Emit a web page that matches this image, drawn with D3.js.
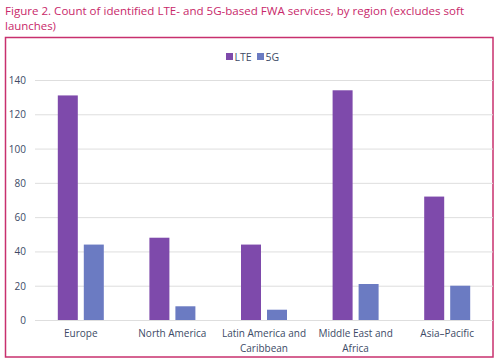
<!DOCTYPE html>
<html>
<head>
<meta charset="utf-8">
<script src="https://cdn.jsdelivr.net/npm/d3@7"></script>
<style>
  body { margin: 0; background: #fff; }
  svg { display: block; font-family: "Open Sans", sans-serif; }
</style>
</head>
<body>
<div id="chart"></div>
<script>
// chart data
const regions = [["Europe"], ["North America"], ["Latin America and", "Caribbean"], ["Middle East and", "Africa"], ["Asia\u2013Pacific"]];
const seriesNames = ["LTE", "5G"];
const lteValues = [131, 48, 44, 134, 72];
const fiveGValues = [44, 8, 6, 21, 20];
const yTicks = [0, 20, 40, 60, 80, 100, 120, 140];

const W = 500, H = 363;
const colors = ["#7e4aab", "#6b7bc2"];
const textCol = "#3d4a66";

const svg = d3.select("#chart").append("svg")
  .attr("width", W).attr("height", H);

// title, two lines
const titleLines = ["Figure 2. Count of identified LTE- and 5G-based FWA services, by region (excludes soft", "launches)"];
const titleLen = [459, 51];
svg.append("g").selectAll("text").data(titleLines).join("text")
  .attr("x", 5).attr("y", (d, i) => 14.5 + i * 15.5)
  .attr("textLength", (d, i) => titleLen[i]).attr("lengthAdjust", "spacingAndGlyphs")
  .attr("fill", "#c8286a")
  .style("font-size", "11.3px")
  .text(d => d);

// frame
svg.append("rect")
  .attr("x", 5.5).attr("y", 37.5).attr("width", 487.5).attr("height", 319.5)
  .attr("fill", "none").attr("stroke", "#c8306e").attr("stroke-width", 1.5);

const margin = {left: 35, right: 7};
const x = d3.scaleBand().domain(d3.range(regions.length))
  .range([margin.left, W - margin.right]);
const y = d3.scaleLinear().domain([0, 140]).range([320, 80]);

// gridlines
svg.append("g").selectAll("line").data(yTicks).join("line")
  .attr("x1", margin.left).attr("x2", W - margin.right)
  .attr("y1", d => y(d) + 0.5).attr("y2", d => y(d) + 0.5)
  .attr("stroke", "#dedede").attr("stroke-width", 1);

// y labels
svg.append("g").selectAll("text").data(yTicks).join("text")
  .attr("x", 26).attr("y", d => y(d) + 4)
  .attr("text-anchor", "end")
  .attr("fill", textCol)
  .style("font-size", "10px")
  .text(d => d);

// bars
const barW = 20, gap = 6;
const series = [lteValues, fiveGValues];
series.forEach(function(vals, s) {
  svg.append("g").selectAll("rect").data(vals).join("rect")
    .attr("x", (d, i) => x(i) + x.bandwidth() / 2 - barW - gap / 2 + s * (barW + gap))
    .attr("y", d => y(d))
    .attr("width", barW)
    .attr("height", d => y(0) - y(d))
    .attr("fill", colors[s]);
});

// x labels
const xl = svg.append("g").selectAll("text").data(regions).join("text")
  .attr("text-anchor", "middle")
  .attr("fill", textCol)
  .style("font-size", "10px");
xl.each(function(lines, i) {
  const t = d3.select(this);
  lines.forEach(function(l, k) {
    t.append("tspan").attr("x", x(i) + x.bandwidth() / 2).attr("y", 337 + k * 15).text(l);
  });
});

// legend
const leg = svg.append("g").attr("transform", "translate(226,52)");
const legX = [0, 31];
seriesNames.forEach(function(n, s) {
  leg.append("rect").attr("x", legX[s]).attr("y", 1).attr("width", 7).attr("height", 7).attr("fill", colors[s]);
  leg.append("text").attr("x", legX[s] + 8.5).attr("y", 8.5)
    .attr("fill", textCol).style("font-size", "10.5px").text(n);
});
</script>
</body>
</html>
